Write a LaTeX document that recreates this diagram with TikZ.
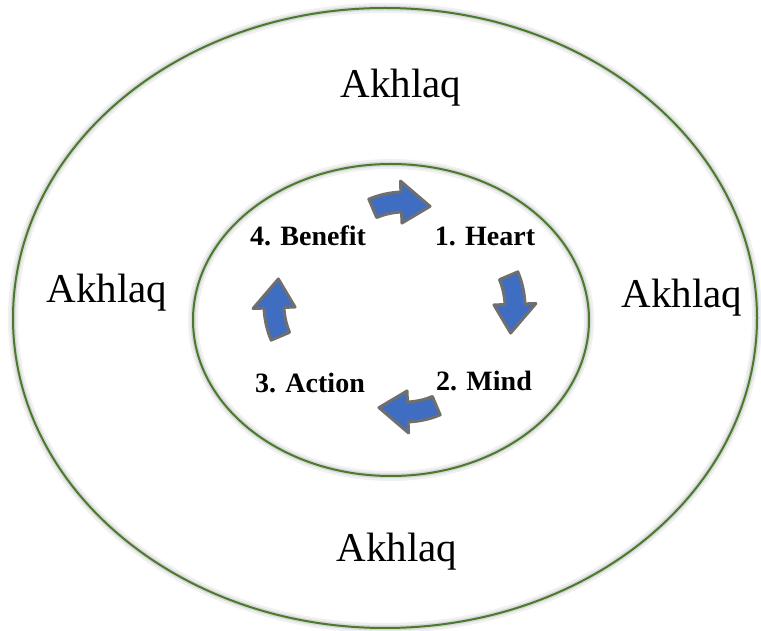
\documentclass[tikz,border=0pt]{standalone}
\usepackage{fontspec}
\setmainfont{Liberation Serif}
\definecolor{ringgreen}{HTML}{4A7A2E}
\definecolor{arrowblue}{HTML}{3E6DC2}
\definecolor{arrowrim}{HTML}{6F6F6F}
\usetikzlibrary{shapes.geometric}

% curved block arrow, points along +x and bends clockwise
\tikzset{
  pics/cyclearrow/.style={code={
    \draw[arrowrim,line width=3pt,line join=round,fill=arrowblue,shift={(0,-80)}]
      (113:90) arc[start angle=113,end angle=92,radius=90] -- (92:101) -- (71:80)
      -- (92:59) -- (92:70) arc[start angle=92,end angle=113,radius=70] -- cycle;
  }}
}

\begin{document}
\begin{tikzpicture}[
  x=1pt,y=1pt,
  ring/.style={ellipse,draw=ringgreen,line width=2pt,inner sep=0pt,
    preaction={draw=black,opacity=0.06,line width=10pt},
    preaction={draw=black,opacity=0.10,line width=5pt}},
  akhlaq/.style={font=\fontsize{41}{45}\selectfont},
  stage/.style={font=\fontsize{28}{32}\selectfont\bfseries}
]
  \useasboundingbox (0,0) rectangle (761,630);

  % the two rings
  \node[ring,minimum width=744pt,minimum height=620pt] (outer) at (385,312) {};
  \node[ring,minimum width=396pt,minimum height=312pt] (inner) at (391,310) {};

  % outer labels
  \node[akhlaq] (top) at (401,542) {Akhlaq};
  \node[akhlaq] (left) at (107,337) {Akhlaq};
  \node[akhlaq] (right) at (682,332) {Akhlaq};
  \node[akhlaq] (bottom) at (397,78) {Akhlaq};

  % the four stages
  \node[stage] (heart) at (485,394) {1. Heart};
  \node[stage] (mind) at (484,249) {2. Mind};
  \node[stage] (action) at (310,247) {3. Action};
  \node[stage] (benefit) at (308,394) {4. Benefit};

  % cycle arrows
  \pic at (404,428) {cyclearrow};
  \pic[rotate=-90] at (515,323) {cyclearrow};
  \pic[rotate=180] at (405,218) {cyclearrow};
  \pic[rotate=90] at (274,325) {cyclearrow};
\end{tikzpicture}
\end{document}
